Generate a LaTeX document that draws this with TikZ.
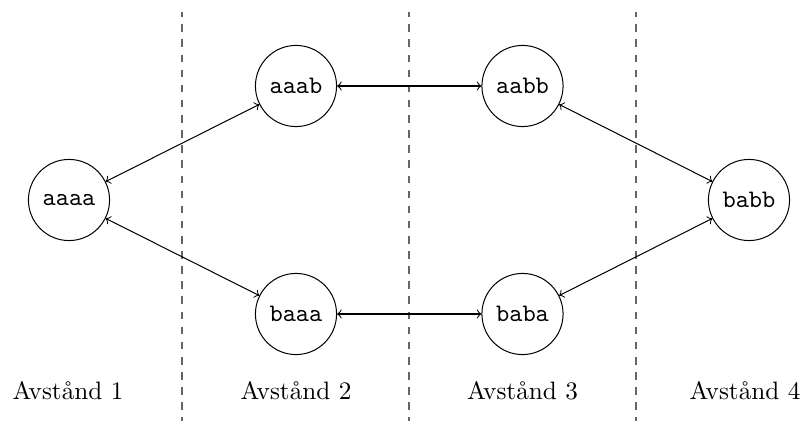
\documentclass[tikz,border=0pt]{standalone}
\begin{document}
\begin{tikzpicture}[x=0.3968pt,y=-0.3968pt,
  state/.style={draw,circle,minimum size=32.2pt,inner sep=1pt,font=\ttfamily},
  link/.style={<->},
  divider/.style={draw,dashed,gray!80!black},
  lbl/.style={anchor=base}]
\useasboundingbox (0,0) rectangle (809,421);
\begin{scope}
\clip (0,0) rectangle (809,421);
\coordinate (d1t) at (182,12); \coordinate (d1b) at (182,425);
\coordinate (d2t) at (409,12); \coordinate (d2b) at (409,425);
\coordinate (d3t) at (636,12); \coordinate (d3b) at (636,425);
\draw[divider] (d1b) -- (d1t);
\draw[divider] (d2b) -- (d2t);
\draw[divider] (d3b) -- (d3t);
\end{scope}
\node[state] (aaaa) at (69,200) {aaaa};
\node[state] (aaab) at (296,86) {aaab};
\node[state] (baaa) at (296,314) {baaa};
\node[state] (aabb) at (522.5,86) {aabb};
\node[state] (baba) at (522.5,314) {baba};
\node[state] (babb) at (749,200) {babb};
\draw[link] (aaaa) -- (aaab);
\draw[link] (aaaa) -- (baaa);
\draw[link] (aaab) -- (aabb);
\draw[link] (baaa) -- (baba);
\draw[link] (aabb) -- (babb);
\draw[link] (baba) -- (babb);
\node[lbl] (l1) at (68,400) {Avstånd 1};
\node[lbl] (l2) at (296,400) {Avstånd 2};
\node[lbl] (l3) at (522.5,400) {Avstånd 3};
\node[lbl] (l4) at (745,400) {Avstånd 4};
\end{tikzpicture}
\end{document}
